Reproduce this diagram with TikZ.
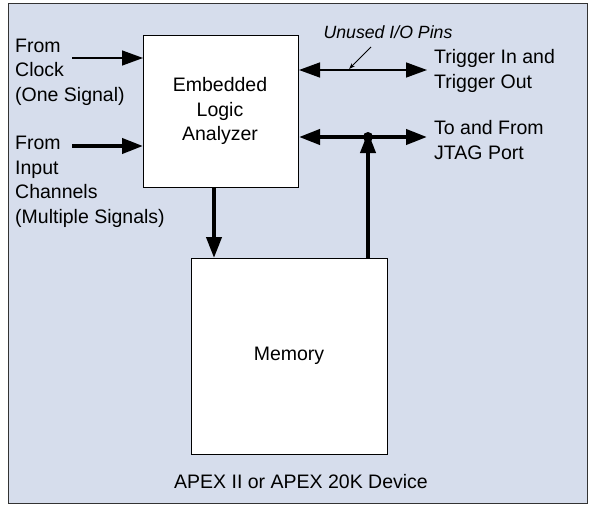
\documentclass[tikz,border=0pt]{standalone}
\usepackage{fontspec}
\setmainfont{Liberation Sans}
\usetikzlibrary{arrows.meta}
\definecolor{bg}{HTML}{D6DDEC}
\tikzset{
  blk/.style={draw=black, line width=1pt, fill=white, anchor=north west, inner sep=0pt},
  txt/.style={font=\fontsize{19.5}{24.5}\selectfont},
  lbl/.style={txt, align=left, anchor=west, inner sep=0pt},
  thin/.style={line width=1.4pt, -{Triangle[length=21pt,width=15pt]}},
  thick/.style={line width=4pt, -{Triangle[length=21pt,width=15pt]}},
  dbl/.style={line width=1.4pt, {Triangle[length=21pt,width=15pt]}-{Triangle[length=21pt,width=15pt]}},
  dblthick/.style={line width=4pt, {Triangle[length=21pt,width=15pt]}-{Triangle[length=21pt,width=15pt]}}
}
\begin{document}
\begin{tikzpicture}[x=1pt,y=-1pt]
\useasboundingbox (0,0) rectangle (591,511);
\draw[fill=bg, draw=black!80, line width=1pt] (8,4) rectangle (587,503);
\node[blk, minimum width=155pt, minimum height=152pt] (ela) at (143,35) {};
\node[txt, align=center] (elat) at (220,111) {Embedded\\Logic\\Analyzer};
\node[blk, minimum width=196pt, minimum height=196pt] (mem) at (191,258) {};
\node[txt] (memt) at (289,356) {Memory};
\node[txt] (dev) at (301,482) {APEX II or APEX 20K Device};
% left labels
\node[lbl] (clk) at (15,72) {From\\Clock\\(One Signal)};
\node[lbl] (inp) at (15,182) {From\\Input\\Channels\\(Multiple Signals)};
\coordinate (clkS) at (72,58);
\coordinate (inpS) at (72,146);
\draw[thin] (clkS) -- (clkS -| ela.west);
\draw[thick] (inpS) -- (inpS -| ela.west);
% right side
\coordinate (trigE) at (427,70);
\coordinate (jtagE) at (427,137);
\draw[dbl] (trigE -| ela.east) -- (trigE);
\draw[dblthick] (jtagE -| ela.east) -- (jtagE);
\node[lbl] (trig) at (434,71) {Trigger In and\\Trigger Out};
\node[lbl] (jtag) at (434,140) {To and From\\JTAG Port};
\node[font=\itshape\fontsize{17.7}{20}\selectfont, inner sep=0pt] (unused) at (388,32) {Unused I/O Pins};
\coordinate (uS) at (371,47);
\coordinate (uE) at (349,69);
\draw[line width=0.9pt, -{Stealth[length=6pt,width=4pt]}] (uS) -- (uE);
% memory connections
\coordinate (dot) at (368,137);
\fill (dot) circle (5pt);
\coordinate (downS) at (214,187);
\draw[thick] (downS) -- (downS |- mem.north);
\draw[thick] (dot |- mem.north) -- ([yshift=5pt]dot);
\end{tikzpicture}
\end{document}
